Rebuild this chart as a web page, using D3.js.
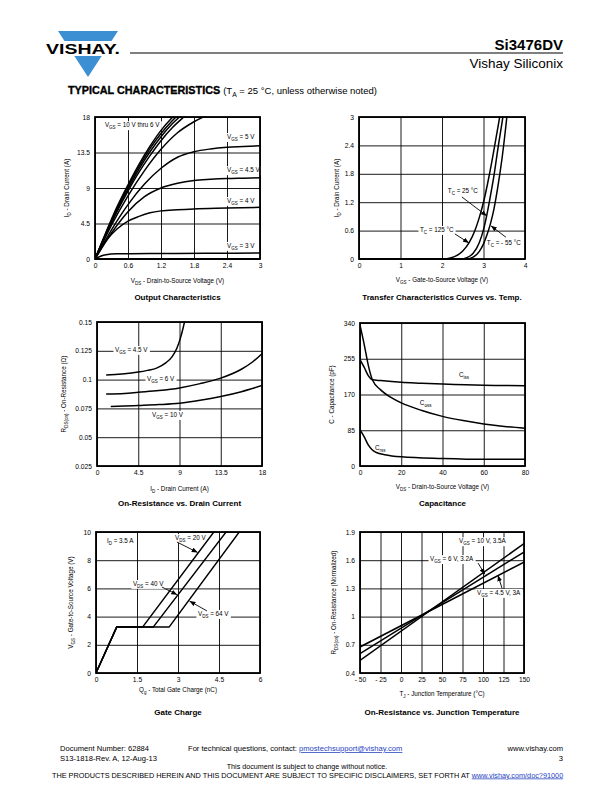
<!DOCTYPE html>
<html><head><meta charset="utf-8">
<script src="https://cdn.jsdelivr.net/npm/d3@7"></script>
<style>
body{margin:0;background:#fff}
svg{display:block;font-family:"Liberation Sans",Arial,Helvetica,sans-serif}
</style></head><body>
<svg id="page" width="612" height="792"></svg>
<script>
// ---------- Chart 1: Output Characteristics ----------
const outXTicks = [0, 0.6, 1.2, 1.8, 2.4, 3];
const outXLabels = ["0", "0.6", "1.2", "1.8", "2.4", "3"];
const outYTicks = [0, 4.5, 9, 13.5, 18];
const outYLabels = ["0", "4.5", "9", "13.5", "18"];
const outVgs10 = [[0,0],[0.2,3.4],[0.4,6.6],[0.6,9.4],[0.8,12],[1.0,14.3],[1.2,16.3],[1.4,17.9],[1.5,18.6]];
const outVgs9 = [[0,0],[0.2,3.3],[0.4,6.4],[0.6,9.2],[0.8,11.7],[1.0,14.0],[1.2,15.9],[1.4,17.5],[1.55,18.5]];
const outVgs8 = [[0,0],[0.2,3.2],[0.4,6.2],[0.6,8.9],[0.8,11.4],[1.0,13.6],[1.2,15.5],[1.4,17.1],[1.6,18.4]];
const outVgs7 = [[0,0],[0.2,3.1],[0.4,6.0],[0.6,8.6],[0.8,11.0],[1.0,13.1],[1.2,15.0],[1.4,16.6],[1.6,17.9],[1.7,18.5]];
const outVgs6 = [[0,0],[0.3,4.3],[0.6,8.0],[0.9,11.2],[1.2,13.9],[1.5,16.0],[1.8,17.4],[2.1,18.4]];
const outVgs5 = [[0,0],[0.3,3.7],[0.6,6.9],[0.9,9.5],[1.2,11.5],[1.5,12.9],[1.8,13.6],[2.1,13.95],[2.4,14.15],[2.7,14.25],[3,14.35]];
const outVgs45 = [[0,0],[0.3,3.3],[0.6,6.0],[0.9,7.9],[1.2,9.0],[1.5,9.6],[1.8,9.95],[2.1,10.1],[2.4,10.2],[2.7,10.25],[3,10.3]];
const outVgs4 = [[0,0],[0.2,2.3],[0.4,3.8],[0.6,4.8],[0.8,5.4],[1.0,5.85],[1.2,6.1],[1.5,6.25],[1.8,6.35],[2.4,6.45],[3,6.55]];
const outVgs3 = [[0,0],[0.1,0.35],[0.2,0.55],[0.4,0.65],[1,0.7],[2,0.72],[3,0.75]];
const outVgs2 = [[0,0],[1.5,0.03],[3,0.04]];
const outNotes = [[0.18,16.7,"V_{GS} = 10 V thru 6 V"],[2.4,15.2,"V_{GS} = 5 V"],[2.4,11.0,"V_{GS} = 4.5 V"],[2.4,7.1,"V_{GS} = 4 V"],[2.4,1.4,"V_{GS} = 3 V"]];

// ---------- Chart 2: Transfer Characteristics ----------
const trXTicks = [0, 1, 2, 3, 4];
const trXLabels = ["0", "1", "2", "3", "4"];
const trYTicks = [0, 0.6, 1.2, 1.8, 2.4, 3];
const trYLabels = ["0", "0.6", "1.2", "1.8", "2.4", "3"];
const trT125 = [[0,0],[2.05,0],[2.2,0.02],[2.35,0.07],[2.5,0.17],[2.65,0.34],[2.8,0.62],[2.9,0.88],[3.0,1.2],[3.1,1.6],[3.2,2.05],[3.3,2.55],[3.4,3.05]];
const trT25 = [[0,0],[2.45,0],[2.6,0.03],[2.75,0.12],[2.9,0.35],[3.0,0.62],[3.08,0.93],[3.16,1.3],[3.25,1.75],[3.35,2.35],[3.45,2.9],[3.5,3.2]];
const trTm55 = [[0,0],[2.6,0],[2.75,0.04],[2.9,0.16],[3.0,0.32],[3.08,0.5],[3.16,0.72],[3.25,1.05],[3.35,1.55],[3.45,2.15],[3.55,2.9],[3.58,3.15]];
const trNotes = [[2.14,1.39,"T_{C} = 25 °C"],[1.47,0.57,"T_{C} = 125 °C"],[3.08,0.30,"T_{C} = - 55 °C"]];
const trArrows = [[2.48,1.31,3.08,0.91],[2.31,0.53,2.65,0.34],[3.54,0.46,3.18,0.70]];

// ---------- Chart 3: On-Resistance vs. Drain Current ----------
const rdXTicks = [0, 4.5, 9, 13.5, 18];
const rdXLabels = ["0", "4.5", "9", "13.5", "18"];
const rdYTicks = [0.025, 0.05, 0.075, 0.1, 0.125, 0.15];
const rdYLabels = ["0.025", "0.05", "0.075", "0.1", "0.125", "0.15"];
const rdVgs45 = [[1,0.104],[2,0.1045],[3,0.105],[4.5,0.1065],[5.5,0.108],[6.5,0.110],[7.5,0.1145],[8.2,0.120],[8.7,0.127],[9.1,0.136],[9.4,0.145],[9.6,0.152]];
const rdVgs6 = [[1,0.0876],[3,0.088],[4.5,0.089],[6.75,0.0905],[9,0.0928],[11.25,0.0965],[13.5,0.1013],[15.75,0.109],[17,0.1155],[18,0.1225]];
const rdVgs10 = [[1.5,0.0766],[3,0.077],[4.5,0.0775],[6.75,0.0783],[9,0.0795],[11.25,0.082],[13.5,0.0853],[15.75,0.0895],[18,0.0949]];
const rdNotes = [[1.96,0.124,"V_{GS} = 4.5 V"],[5.45,0.0988,"V_{GS} = 6 V"],[6.0,0.0675,"V_{GS} = 10 V"]];

// ---------- Chart 4: Capacitance ----------
const capXTicks = [0, 20, 40, 60, 80];
const capXLabels = ["0", "20", "40", "60", "80"];
const capYTicks = [0, 85, 170, 255, 340];
const capYLabels = ["0", "85", "170", "255", "340"];
const capCiss = [[0,253],[2,235],[4,215],[6,205],[10,203],[20,199],[30,197],[40,195],[60,192],[80,191]];
const capCoss = [[0,335],[2,290],[4,240],[6,205],[10,181],[15,163],[20,150],[30,132],[40,118],[50,108],[60,100],[70,94],[80,90]];
const capCrss = [[0,86],[2,70],[4,50],[6,38],[8,32],[12,27],[20,22],[40,18],[60,16],[80,16]];
const capNotes = [[48,211,"C_{iss}"],[29,145,"C_{oss}"],[7.3,38,"C_{rss}"]];

// ---------- Chart 5: Gate Charge ----------
const gcXTicks = [0, 1.5, 3, 4.5, 6];
const gcXLabels = ["0", "1.5", "3", "4.5", "6"];
const gcYTicks = [0, 2, 4, 6, 8, 10];
const gcYLabels = ["0", "2", "4", "6", "8", "10"];
const gcVds20 = [[0,0],[0.76,3.27],[1.71,3.27],[4.35,10.1]];
const gcVds40 = [[0,0],[0.76,3.27],[2.1,3.27],[4.8,10.1]];
const gcVds64 = [[0,0],[0.76,3.27],[2.68,3.27],[5.28,10.1]];
const gcNotes = [[0.4,9.22,"I_{D} = 3.5 A"],[2.89,9.43,"V_{DS} = 20 V"],[1.35,6.17,"V_{DS} = 40 V"],[3.73,4.04,"V_{DS} = 64 V"]];
const gcArrows = [[2.96,9.29,3.72,8.55],[2.41,6.1,2.97,5.55],[4.06,4.4,3.42,5.1]];

// ---------- Chart 6: On-Resistance vs. Junction Temperature ----------
const tjXTicks = [-50, -25, 0, 25, 50, 75, 100, 125, 150];
const tjXLabels = ["- 50", "- 25", "0", "25", "50", "75", "100", "125", "150"];
const tjYTicks = [0.4, 0.7, 1, 1.3, 1.6, 1.9];
const tjYLabels = ["0.4", "0.7", "1", "1.3", "1.6", "1.9"];
const tjVgs10 = [[-50,0.535],[150,1.776]];
const tjVgs6 = [[-50,0.606],[150,1.687]];
const tjVgs45 = [[-50,0.677],[150,1.58]];
const tjNotes = [[70.7,1.78,"V_{GS} = 10 V, 3.5A"],[35.4,1.59,"V_{GS} = 6 V, 3.2A"],[92.7,1.23,"V_{GS} = 4.5 V, 3A"]];
const tjArrows = [[93.9,1.57,102.4,1.45],[123.2,1.30,118.3,1.44]];

// ---------------------------------------------------------------
const svg = d3.select('#page');
const defs = svg.append('defs');
defs.append('marker').attr('id','ah').attr('viewBox','0 0 10 8').attr('refX',10).attr('refY',4)
  .attr('markerWidth',6).attr('markerHeight',4.8).attr('markerUnits','userSpaceOnUse').attr('orient','auto')
  .append('path').attr('d','M0,0L10,4L0,8Z').attr('fill','#000');

function rich(t, str, fs){
  const parts = str.split(/(_\{[^}]*\})/).filter(p=>p);
  let sub = false;
  parts.forEach(p=>{
    if(p.startsWith('_{')){
      t.append('tspan').attr('dy', fs*0.3).attr('font-size', fs*0.72).text(p.slice(2,-1));
      sub = true;
    } else {
      const s = t.append('tspan').attr('font-size', fs).text(p);
      if(sub){ s.attr('dy', -fs*0.3); sub = false; }
    }
  });
  return t;
}

function drawChart(c){
  const [x0,x1,y0,y1] = c.box;
  const x = d3.scaleLinear().domain(c.xDomain).range([x0,x1]);
  const y = d3.scaleLinear().domain(c.yDomain).range([y1,y0]);
  const g = svg.append('g');
  const gx = g.append('g').attr('transform',`translate(0,${y1})`)
    .call(d3.axisBottom(x).tickValues(c.xTicks).tickFormat((d,i)=>c.xLabels[i]).tickSize(-(y1-y0)).tickPadding(4.5));
  const gy = g.append('g').attr('transform',`translate(${x0},0)`)
    .call(d3.axisLeft(y).tickValues(c.yTicks).tickFormat((d,i)=>c.yLabels[i]).tickSize(-(x1-x0)).tickPadding(5));
  [gx,gy].forEach(a=>{
    a.select('.domain').remove();
    a.selectAll('line').attr('stroke','#000').attr('stroke-width',0.9);
    a.selectAll('text').attr('fill','#000').attr('font-size',6.7).attr('font-family','"Liberation Sans",Arial,sans-serif');
  });
  const bg = g.append('g');
  const clipId = 'clip'+c.id;
  defs.append('clipPath').attr('id',clipId).append('rect')
    .attr('x',x0).attr('y',y0-0.5).attr('width',x1-x0).attr('height',y1-y0+1);
  const line = d3.line().x(d=>x(d[0])).y(d=>y(d[1])).curve(c.curve||d3.curveMonotoneX);
  g.append('g').attr('clip-path',`url(#${clipId})`).selectAll('path').data(c.series).join('path')
    .attr('d',line).attr('fill','none').attr('stroke','#000').attr('stroke-width',1.5).attr('stroke-linejoin','round');
  g.append('rect').attr('x',x0).attr('y',y0).attr('width',x1-x0).attr('height',y1-y0)
    .attr('fill','none').attr('stroke','#000').attr('stroke-width',1.8);
  const ga = g.append('g');
  const fs = 6.3;
  (c.notes||[]).forEach(n=>{
    const t = ga.append('text').attr('x',x(n[0])).attr('y',y(n[1])).attr('fill','#000');
    rich(t, n[2], fs);
    const b = t.node().getBBox();
    bg.append('rect').attr('x',b.x-1.5).attr('y',b.y).attr('width',b.width+3).attr('height',b.height).attr('fill','#fff');
  });
  (c.arrows||[]).forEach(a=>{
    ga.append('line').attr('x1',x(a[0])).attr('y1',y(a[1])).attr('x2',x(a[2])).attr('y2',y(a[3]))
      .attr('stroke','#000').attr('stroke-width',0.9).attr('marker-end','url(#ah)');
  });
  // axis titles
  const xt = g.append('text').attr('x',(x0+x1)/2).attr('y',y1+c.xTitleDy).attr('text-anchor','middle').attr('fill','#000');
  rich(xt, c.xTitle, 6.3);
  const yt = g.append('text').attr('transform',`translate(${c.yTitleX},${(y0+y1)/2}) rotate(-90)`).attr('text-anchor','middle').attr('fill','#000');
  rich(yt, c.yTitle, 6.3);
  g.append('text').attr('x',(x0+x1)/2).attr('y',y1+c.titleDy).attr('text-anchor','middle')
    .attr('font-weight','bold').attr('font-size',8).attr('fill','#000').text(c.title);
}

drawChart({id:1, box:[95,260,117,259], xDomain:[0,3], yDomain:[0,18],
  xTicks:outXTicks, xLabels:outXLabels, yTicks:outYTicks, yLabels:outYLabels,
  series:[outVgs10,outVgs9,outVgs8,outVgs7,outVgs6,outVgs5,outVgs45,outVgs4,outVgs3,outVgs2],
  notes:outNotes, xTitle:"V_{DS} - Drain-to-Source Voltage (V)", xTitleDy:24, yTitle:"I_{D} - Drain Current (A)", yTitleX:69,
  title:"Output Characteristics", titleDy:41});

drawChart({id:2, box:[359,525,117,259], xDomain:[0,4], yDomain:[0,3],
  xTicks:trXTicks, xLabels:trXLabels, yTicks:trYTicks, yLabels:trYLabels,
  series:[trT125,trT25,trTm55], notes:trNotes, arrows:trArrows,
  xTitle:"V_{GS} - Gate-to-Source Voltage (V)", xTitleDy:23, yTitle:"I_{D} - Drain Current (A)", yTitleX:339,
  title:"Transfer Characteristics Curves vs. Temp.", titleDy:41});

drawChart({id:3, box:[97,262,322,466], xDomain:[0,18], yDomain:[0.025,0.15],
  xTicks:rdXTicks, xLabels:rdXLabels, yTicks:rdYTicks, yLabels:rdYLabels,
  series:[rdVgs45,rdVgs6,rdVgs10], notes:rdNotes,
  xTitle:"I_{D} - Drain Current (A)", xTitleDy:25, yTitle:"R_{DS(on)} - On-Resistance (Ω)", yTitleX:66,
  title:"On-Resistance vs. Drain Current", titleDy:40});

drawChart({id:4, box:[360,525,323,466], xDomain:[0,80], yDomain:[0,340],
  xTicks:capXTicks, xLabels:capXLabels, yTicks:capYTicks, yLabels:capYLabels,
  series:[capCiss,capCoss,capCrss], notes:capNotes,
  xTitle:"V_{DS} - Drain-to-Source Voltage (V)", xTitleDy:23, yTitle:"C - Capacitance (pF)", yTitleX:334,
  title:"Capacitance", titleDy:40});

drawChart({id:5, box:[96,260,532,673], xDomain:[0,6], yDomain:[0,10],
  xTicks:gcXTicks, xLabels:gcXLabels, yTicks:gcYTicks, yLabels:gcYLabels,
  series:[gcVds20,gcVds40,gcVds64], curve:d3.curveLinear, notes:gcNotes, arrows:gcArrows,
  xTitle:"Q_{g} - Total Gate Charge (nC)", xTitleDy:19, yTitle:"V_{GS} - Gate-to-Source Voltage (V)", yTitleX:73,
  title:"Gate Charge", titleDy:42});

drawChart({id:6, box:[360,524,532,673], xDomain:[-50,150], yDomain:[0.4,1.9],
  xTicks:tjXTicks, xLabels:tjXLabels, yTicks:tjYTicks, yLabels:tjYLabels,
  series:[tjVgs10,tjVgs6,tjVgs45], curve:d3.curveLinear, notes:tjNotes, arrows:tjArrows,
  xTitle:"T_{J} - Junction Temperature (°C)", xTitleDy:23, yTitle:"R_{DS(on)} - On-Resistance (Normalized)", yTitleX:336,
  title:"On-Resistance vs. Junction Temperature", titleDy:42});

// ---------- Header ----------
svg.append('path').attr('d','M58,31L118,31L88,77Z').attr('fill','#3c8fd2');
svg.append('rect').attr('x',44).attr('y',41).attr('width',78).attr('height',15).attr('fill','#fff');
svg.append('text').attr('x',46).attr('y',53.5).attr('font-weight','bold').attr('font-size',15.5)
  .attr('textLength',74).attr('lengthAdjust','spacingAndGlyphs').attr('fill','#000').text('VISHAY.');
svg.append('line').attr('x1',130).attr('x2',563).attr('y1',53).attr('y2',53).attr('stroke','#000').attr('stroke-width',1.1);
svg.append('text').attr('x',563).attr('y',50).attr('text-anchor','end').attr('font-weight','bold').attr('font-size',15).text('Si3476DV');
svg.append('text').attr('x',563).attr('y',68).attr('text-anchor','end').attr('font-size',13.5).text('Vishay Siliconix');
const ttl = svg.append('text').attr('x',68).attr('y',94).attr('fill','#000');
ttl.append('tspan').attr('font-weight',900).attr('font-size',10.8).attr('stroke','#000').attr('stroke-width',0.35).text('TYPICAL CHARACTERISTICS ');
ttl.append('tspan').attr('font-size',9.5).text('(T');
ttl.append('tspan').attr('font-size',6.8).attr('dy',2.5).text('A');
ttl.append('tspan').attr('font-size',9.5).attr('dy',-2.5).text(' = 25 °C, unless otherwise noted)');

// ---------- Footer ----------
const ff = 7.6;
svg.append('text').attr('x',60).attr('y',751).attr('font-size',ff).text('Document Number: 62884');
svg.append('text').attr('x',60).attr('y',761).attr('font-size',ff).text('S13-1818-Rev. A, 12-Aug-13');
const q = svg.append('text').attr('x',188).attr('y',751).attr('font-size',ff);
q.append('tspan').text('For technical questions, contact: ');
q.append('tspan').attr('fill','#1f3fbf').attr('text-decoration','underline').text('pmostechsupport@vishay.com');
svg.append('text').attr('x',563).attr('y',751).attr('font-size',ff).attr('text-anchor','end').text('www.vishay.com');
svg.append('text').attr('x',563).attr('y',761).attr('font-size',ff).attr('text-anchor','end').text('3');
svg.append('text').attr('x',307).attr('y',769).attr('font-size',7.2).attr('text-anchor','middle').text('This document is subject to change without notice.');
const disc = svg.append('text').attr('x',52).attr('y',777.5).attr('font-size',7.2);
disc.append('tspan').text('THE PRODUCTS DESCRIBED HEREIN AND THIS DOCUMENT ARE SUBJECT TO SPECIFIC DISCLAIMERS, SET FORTH AT ');
disc.append('tspan').attr('fill','#1f3fbf').attr('text-decoration','underline').text('www.vishay.com/doc?91000');
const dl = disc.node().getComputedTextLength();
disc.attr('font-size', 7.2*511/dl);
</script>
</body></html>
